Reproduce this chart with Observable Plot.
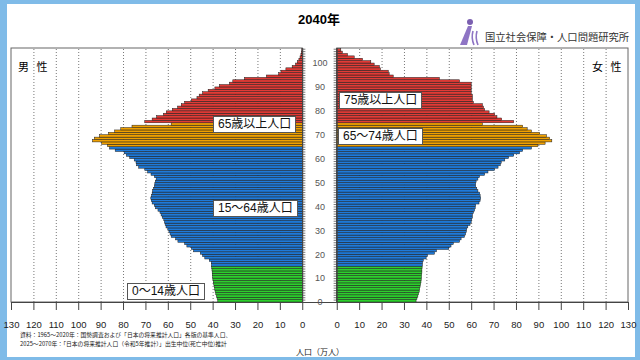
<!DOCTYPE html>
<html><head><meta charset="utf-8">
<script src="https://cdn.jsdelivr.net/npm/d3@7"></script>
<script src="https://cdn.jsdelivr.net/npm/@observablehq/plot@0.6"></script>
<style>
html,body{margin:0;padding:0;}
body{width:640px;height:360px;overflow:hidden;font-family:"Liberation Sans","Noto Sans CJK JP",sans-serif;}
#frame{position:absolute;left:0;top:0;width:640px;height:360px;background:#7fbbe8;}
#inner{position:absolute;left:7px;top:4px;width:628px;height:353px;background:#fff;}
#chart{position:absolute;left:0;top:0;}
.lbl{position:absolute;background:#fff;border:1px solid #555;font-size:12px;line-height:15px;padding:0 4px;color:#111;white-space:nowrap;font-family:"Liberation Sans","Noto Sans CJK JP",sans-serif;}
.abs{position:absolute;white-space:nowrap;}
.src{position:absolute;white-space:nowrap;left:20px;font-size:5.8px;line-height:7px;color:#222;font-family:'Noto Sans CJK JP',sans-serif;}
</style></head>
<body>
<div id="frame"></div><div id="inner"></div>
<div id="chart"></div>
<div class="abs" style="left:298px;top:9px;font-weight:bold;font-size:13px;">2040年</div>
<svg class="abs" style="left:458px;top:18px" width="26" height="28" viewBox="0 0 26 28">
  <circle cx="12" cy="4" r="3" fill="#7b5fb0"/>
  <path d="M10 8 L14 8 L9 27 L2 27 Z" fill="#8e74c4"/>
  <path d="M15 13 Q13 20 16 27" stroke="#8e74c4" stroke-width="1.6" fill="none"/>
  <path d="M19 13 Q17 20 20 27" stroke="#8e74c4" stroke-width="1.6" fill="none"/>
</svg>
<div class="abs" style="left:485px;top:29px;font-size:10.3px;color:#333;font-family:'Noto Sans CJK JP',sans-serif;">国立社会保障・人口問題研究所</div>
<div class="abs" style="left:18px;top:58px;font-size:11px;font-family:'Noto Sans CJK JP',sans-serif;">男&nbsp;&nbsp;&nbsp;性</div>
<div class="abs" style="left:592px;top:58px;font-size:11px;font-family:'Noto Sans CJK JP',sans-serif;">女&nbsp;&nbsp;&nbsp;性</div>
<div class="lbl" style="left:213px;top:116px;">65歳以上人口</div>
<div class="lbl" style="left:213px;top:200px;">15～64歳人口</div>
<div class="lbl" style="left:127px;top:283px;">0～14歳人口</div>
<div class="lbl" style="left:339px;top:92px;">75歳以上人口</div>
<div class="lbl" style="left:338px;top:128px;">65～74歳人口</div>
<div class="src" style="top:331px;">資料：1965～2020年：国勢調査および「日本の将来推計人口」各版の基準人口、</div>
<div class="src" style="top:339.5px;">2025～2070年：「日本の将来推計人口（令和5年推計）」出生中位(死亡中位)推計</div>
<div class="abs" style="left:296px;top:347px;font-size:8px;line-height:10px;color:#222;font-family:'Noto Sans CJK JP',sans-serif;">人口（万人）</div>
<script>
// Population in 2040 (10 thousand persons), index = age 0..105
const male = [37.7,38.0,38.3,38.6,38.9,39.1,39.3,39.5,39.7,39.9,
40.0,40.1,40.2,40.3,40.4,40.5,40.6,41.5,43.5,44.5,
45.5,48.5,49.5,51.5,52.5,55.5,56.5,58.5,59.0,59.5,
60.0,60.8,61.2,61.5,61.8,62.5,63.0,63.5,64.4,65.5,
66.0,67.0,67.4,67.6,67.3,67.0,66.8,66.4,66.0,65.8,
65.6,65.2,66.0,67.5,69.0,70.3,73.0,74.0,74.2,75.0,
77.0,78.5,79.5,83.5,86.0,87.0,89.5,93.6,92.8,90.5,
86.5,83.7,81.0,76.0,58.5,70.3,67.0,65.0,62.0,60.7,
58.0,55.6,54.0,52.5,49.5,47.0,46.0,44.5,42.0,39.0,
37.0,32.5,31.0,25.8,16.0,10.5,9.5,7.3,4.5,3.0,
2.2,1.5,1.0,0.6,0.4,0.2];
const female = [35.4,35.8,36.2,36.5,36.8,37.0,37.2,37.4,37.6,37.7,
37.8,37.9,38.0,38.0,38.1,38.2,38.3,38.6,39.9,40.5,
43.6,44.5,50.0,51.0,52.0,54.8,55.5,57.0,57.5,57.8,
58.0,58.5,59.5,60.0,60.2,60.5,60.5,61.0,61.5,61.8,
62.0,63.5,64.0,64.2,64.0,63.8,63.0,62.5,62.0,62.0,
62.2,63.0,63.7,66.0,67.5,70.4,72.0,73.0,73.4,75.0,
76.7,79.0,81.6,83.0,86.9,89.8,93.0,96.0,95.0,93.6,
90.6,86.9,85.0,83.0,65.0,79.0,73.6,71.5,70.5,68.0,
66.0,65.5,65.0,61.0,60.5,60.5,60.5,60.0,60.0,60.0,
60.0,60.0,54.8,45.8,25.2,23.4,23.0,19.5,19.0,16.7,
15.2,11.5,7.8,4.8,2.5,1.8];
const groups = ["0～14歳","15～64歳","65～74歳","75歳以上"];
const groupColors = ["#2dcf2d","#1f7ad9","#efa000","#e23b36"];
const xTicks = [0,10,20,30,40,50,60,70,80,90,100,110,120,130];
const ageTicks = [0,10,20,30,40,50,60,70,80,90,100];

const G = 7.7;            // half-gap for the central age column (in 万人 units)
const XMAX = 130, AMAX = 106.3;
const grp = a => a < 15 ? groups[0] : a < 65 ? groups[1] : a < 75 ? groups[2] : groups[3];
const ages = d3.range(male.length);
const bars = ages.flatMap(a => [
  {age: a, s: -1, v: male[a], g: grp(a)},
  {age: a, s: 1, v: female[a], g: grp(a)}
]);
const tickPos = [...xTicks.map(t => -(G + t)), ...xTicks.map(t => G + t)];
const grid = xTicks.filter(t => t > 0 && t < XMAX);
const panels = [{x1: -(G + XMAX), x2: -G}, {x1: G, x2: G + XMAX}];
const yearTicks = d3.range(0, 107);

const chart = Plot.plot({
  width: 640, height: 360,
  marginTop: 48, marginBottom: 58, marginLeft: 11, marginRight: 12,
  style: {fontFamily: "Liberation Sans, Noto Sans CJK JP, sans-serif", background: "transparent"},
  x: {domain: [-(G + XMAX), G + XMAX], axis: null},
  y: {domain: [0, AMAX], axis: null},
  color: {domain: groups, range: groupColors},
  marks: [
    Plot.rect(panels, {x1: "x1", x2: "x2", y1: 0, y2: AMAX, fill: "white", stroke: "#666", strokeWidth: 1}),
    Plot.ruleX(grid, {x: t => -(G + t), y1: 0, y2: AMAX, stroke: "#555", strokeDasharray: "1,2", strokeWidth: 0.8}),
    Plot.ruleX(grid, {x: t => G + t, y1: 0, y2: AMAX, stroke: "#555", strokeDasharray: "1,2", strokeWidth: 0.8}),
    Plot.rect(bars, {x1: d => d.s * G, x2: d => d.s * (G + d.v), y1: "age", y2: d => d.age + 1, fill: "g", stroke: "#1a1a1a", strokeWidth: 0.5}),
    Plot.ruleY(yearTicks, {y: a => a, x1: -G, x2: -G + 1.4, stroke: "#444", strokeWidth: 0.7}),
    Plot.ruleY(yearTicks, {y: a => a, x1: G, x2: G - 1.4, stroke: "#444", strokeWidth: 0.7}),
    Plot.ruleX([-G, G], {y1: 0, y2: AMAX, stroke: "#444", strokeWidth: 1}),
    Plot.ruleY([0], {x1: -(G + XMAX), x2: G + XMAX, stroke: "#444", strokeWidth: 1}),
    Plot.text(ageTicks, {x: 0, y: a => a, text: a => String(a), fontSize: 9, fill: "#555"}),
    Plot.axisX(tickPos, {tickFormat: d => String(Math.round(Math.abs(d) - G)), tickSize: 8, tickPadding: 11, fontSize: 9.5, stroke: "#444", fill: "#222"})
  ]
});
document.getElementById("chart").appendChild(chart);
</script>
</body></html>
